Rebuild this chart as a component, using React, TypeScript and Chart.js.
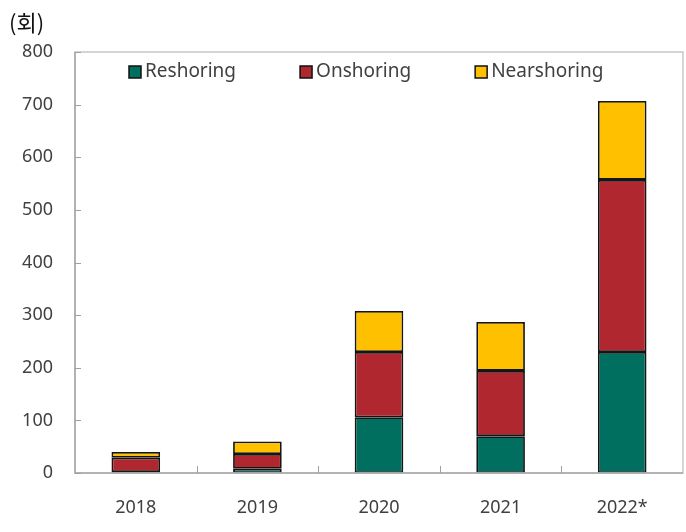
import React, { useEffect, useRef } from "react";
import { Chart, registerables } from "chart.js";

Chart.register(...registerables);

const categories = ["2018", "2019", "2020", "2021", "2022*"];
const reshoring = [2, 8, 106, 70, 230];
const onshoring = [27, 28, 124, 124, 327];
const nearshoring = [11, 24, 78, 93, 150];
const yTicks = [0, 100, 200, 300, 400, 500, 600, 700, 800];
const unitLabel = "(회)";

const FONT = "'Noto Sans', 'Noto Sans CJK KR', sans-serif";

const framePlugin = {
  id: "framePlugin",
  afterDraw(chart: any) {
    const { ctx, chartArea } = chart;
    const { left, right, top, bottom } = chartArea;
    const x = chart.scales.x;
    const y = chart.scales.y;
    ctx.save();
    // frame
    ctx.strokeStyle = "#c8c8c8";
    ctx.lineWidth = 1.5;
    ctx.strokeRect(left, top, right - left, bottom - top);
    ctx.strokeStyle = "#a8a8a8";
    ctx.beginPath();
    ctx.moveTo(left, top);
    ctx.lineTo(left, bottom);
    ctx.lineTo(right, bottom);
    ctx.stroke();
    // y ticks inward
    ctx.lineWidth = 1;
    ctx.strokeStyle = "#a0a0a0";
    for (const v of yTicks) {
      const py = Math.round(y.getPixelForValue(v)) + 0.5;
      ctx.beginPath();
      ctx.moveTo(left, py);
      ctx.lineTo(left + 6, py);
      ctx.stroke();
    }
    // x ticks inward at category boundaries
    for (let i = 1; i < categories.length; i++) {
      const px = Math.round((x.getPixelForValue(i - 1) + x.getPixelForValue(i)) / 2) + 0.5;
      ctx.beginPath();
      ctx.moveTo(px, bottom);
      ctx.lineTo(px, bottom - 7);
      ctx.stroke();
    }
    // unit label
    ctx.fillStyle = "#111";
    ctx.font = `22px 'Noto Sans CJK KR', sans-serif`;
    ctx.textBaseline = "middle";
    ctx.textAlign = "left";
    ctx.fillText(unitLabel, 9, 23);
    // legend inside chart area
    ctx.font = `19px ${FONT}`;
    let lx = left + 54;
    const ly = top + 20;
    chart.data.datasets.forEach((ds: any) => {
      ctx.fillStyle = ds.backgroundColor;
      ctx.fillRect(lx, ly - 6, 12, 12);
      ctx.strokeStyle = "#111";
      ctx.lineWidth = 1.5;
      ctx.strokeRect(lx, ly - 6, 12, 12);
      ctx.fillStyle = "#404040";
      ctx.fillText(ds.label, lx + 16, ly);
      lx += 16 + ctx.measureText(ds.label).width + 64;
    });
    ctx.restore();
  },
};

export default function App() {
  const ref = useRef<HTMLCanvasElement | null>(null);
  useEffect(() => {
    document.body.style.margin = "0";
    const ds = (label: string, data: number[], color: string) => ({
      label,
      data,
      backgroundColor: color,
      borderColor: "#151515",
      borderWidth: 1.8,
      borderSkipped: false,
      barPercentage: 0.4,
      categoryPercentage: 1,
    });
    const chart = new Chart(ref.current!, {
      type: "bar",
      data: {
        labels: categories,
        datasets: [
          ds("Reshoring", reshoring, "#006f5f"),
          ds("Onshoring", onshoring, "#b0272f"),
          ds("Nearshoring", nearshoring, "#ffc000"),
        ],
      },
      options: {
        animation: false,
        responsive: false,
        devicePixelRatio: 1,
        layout: { padding: { top: 52, right: 3, left: 0, bottom: 0 } },
        plugins: { legend: { display: false }, tooltip: { enabled: false } },
        scales: {
          x: {
            stacked: true,
            grid: { display: false, drawTicks: false },
            border: { display: false },
            ticks: { color: "#404040", font: { family: FONT, size: 18 }, padding: 24 },
            afterFit: (s: any) => { s.height = 59; },
          },
          y: {
            stacked: true,
            min: 0,
            max: 800,
            grid: { display: false, drawTicks: false },
            border: { display: false },
            ticks: {
              stepSize: 100,
              color: "#404040",
              font: { family: FONT, size: 18 },
              padding: 22,
            },
            afterFit: (s: any) => { s.width = 75; },
          },
        },
      },
      plugins: [framePlugin],
    });
    return () => chart.destroy();
  }, []);
  return (
    <div style={{ position: "absolute", left: 0, top: 0, width: 686, height: 532 }}>
      <canvas ref={ref} width={686} height={532} />
    </div>
  );
}
